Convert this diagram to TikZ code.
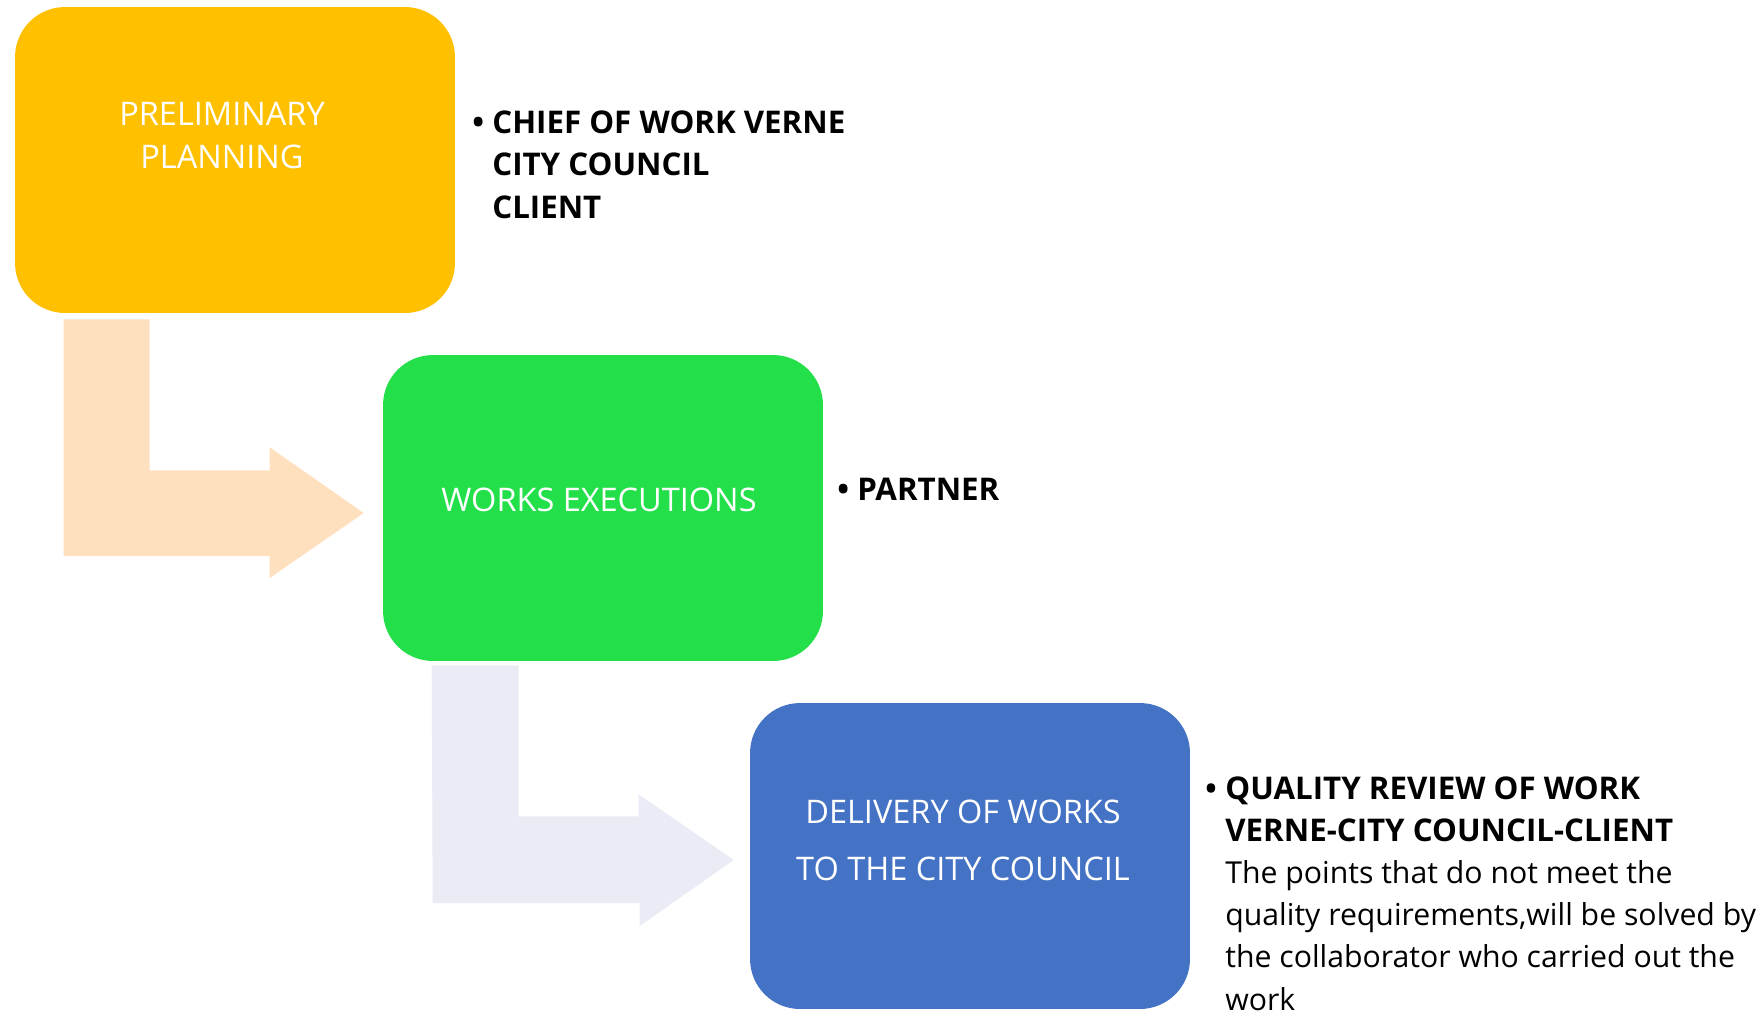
\documentclass[tikz,border=0pt]{standalone}
\usepackage{fontspec}
\setmainfont{Open Sans}
\usetikzlibrary{calc}
\definecolor{planyellow}{HTML}{FFC000}
\definecolor{execgreen}{HTML}{23E04A}
\definecolor{delivblue}{HTML}{4472C4}
\definecolor{planpeach}{HTML}{FFE0BE}
\definecolor{execlavender}{HTML}{E9EBF5}
\newcommand{\stagebullet}{\makebox[0.4cm][l]{\bfseries\textbullet}}
\newcommand{\stageindent}{\hspace*{0.4cm}}
\tikzset{
  stage/.style={rounded corners=1cm, minimum width=8.8cm, minimum height=6.12cm, inner sep=0pt},
  stagetext/.style={text=white, align=center, font=\fontsize{18.5}{24}\selectfont, inner sep=0pt},
  listtext/.style={align=left, font=\fontsize{17.2}{24}\selectfont, inner sep=0pt},
  listbold/.style={listtext, font=\fontsize{17.8}{24}\selectfont\bfseries},
}
\begin{document}
\begin{tikzpicture}[x=0.02cm, y=-0.02cm]
\useasboundingbox (0,0) rectangle (1763,1015);
\node[stage, fill=planyellow] (plan) at (235,160){};
\node[stage, fill=execgreen] (exec) at (603,508){};
\node[stage, fill=delivblue] (deliv) at (970,856){};
\fill[planpeach] ($(plan.south west)+(49,6)$) -- ++(86,0) -- ++(0,151) -- ++(120,0) -- ++(0,-23) -- ($(exec.west)+(-19,5)$) -- ++(-94,65) -- ++(0,-22) -- ++(-206,0) -- cycle;
\fill[execlavender] ($(exec.south west)+(49,4)$) -- ++(87,0) -- ++(0,151) -- ++(120,0) -- ++(0,-22) -- ($(deliv.west)+(-16,4)$) -- ++(-94,66) -- ++(0,-23) -- ++(-207,0) -- cycle;
\node[stagetext, anchor=base] (plantxt) at ($(plan.center)+(-13,8)$){PRELIMINARY\\PLANNING};
\node[stagetext, anchor=base] (exectxt) at ($(exec.center)+(-4,3)$){WORKS EXECUTIONS};
\node[stagetext, anchor=base] (delivtxt) at ($(deliv.center)+(-7,24)$){DELIVERY OF WORKS\\[8pt]TO THE CITY COUNCIL};
\node[listbold, anchor=base west] (planlist) at (472,218){\stagebullet CHIEF OF WORK VERNE\\\stageindent CITY COUNCIL\\\stageindent CLIENT};
\node[listbold, anchor=base west] (execlist) at (837,500){\stagebullet PARTNER};
\node[listtext, anchor=base west] (delivlist) at (1205,1010){\stagebullet{\fontsize{17.8}{24}\selectfont\bfseries QUALITY REVIEW OF WORK}\\\stageindent{\fontsize{17.8}{24}\selectfont\bfseries VERNE-CITY COUNCIL-CLIENT}\\\stageindent The points that do not meet the\\\stageindent quality requirements,will be solved by\\\stageindent the collaborator who carried out the\\\stageindent work};
\end{tikzpicture}
\end{document}
